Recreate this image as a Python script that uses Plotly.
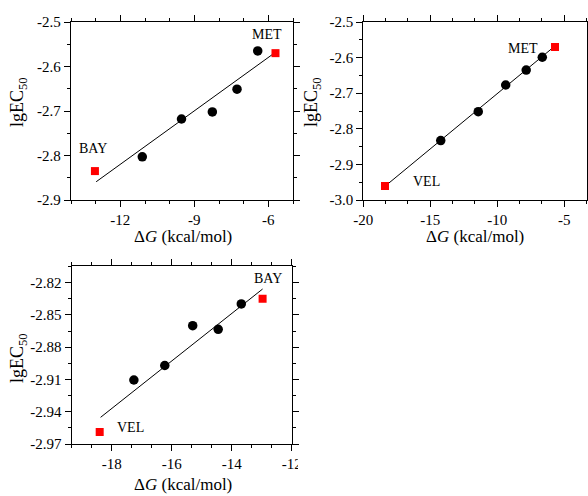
import plotly.graph_objects as go

FONT = "Liberation Serif"

# ---------------- data ----------------
# Panel A (top-left)
a_circ_x = [-11.11, -9.52, -8.27, -7.27, -6.43]
a_circ_y = [-2.803, -2.718, -2.702, -2.651, -2.565]
a_sq_x = [-13.03, -5.71]
a_sq_y = [-2.835, -2.570]
a_fit_x = [-12.98, -5.76]
a_fit_y = [-2.859, -2.570]
a_lab = ["BAY", "MET"]
a_lab_x = [-13.1, -6.04]
a_lab_y = [-2.785, -2.529]
a_xticks = [-12, -9, -6]
a_xtext = ["-12", "-9", "-6"]
a_yticks = [-2.9, -2.8, -2.7, -2.6, -2.5]
a_ytext = ["-2.9", "-2.8", "-2.7", "-2.6", "-2.5"]

# Panel B (top-right)
b_circ_x = [-14.22, -11.42, -9.37, -7.84, -6.64]
b_circ_y = [-2.833, -2.752, -2.677, -2.635, -2.599]
b_sq_x = [-18.38, -5.69]
b_sq_y = [-2.961, -2.570]
b_fit_x = [-18.4, -5.65]
b_fit_y = [-2.962, -2.566]
b_lab = ["MET", "VEL"]
b_lab_x = [-8.06, -15.25]
b_lab_y = [-2.574, -2.947]
b_xticks = [-20, -15, -10, -5]
b_xtext = ["-20", "-15", "-10", "-5"]
b_yticks = [-3.0, -2.9, -2.8, -2.7, -2.6, -2.5]
b_ytext = ["-3.0", "-2.9", "-2.8", "-2.7", "-2.6", "-2.5"]

# Panel C (bottom-left)
c_circ_x = [-17.26, -16.23, -15.30, -14.45, -13.68]
c_circ_y = [-2.9105, -2.897, -2.860, -2.8634, -2.8398]
c_sq_x = [-18.40, -12.97]
c_sq_y = [-2.9588, -2.8349]
c_fit_x = [-18.37, -12.97]
c_fit_y = [-2.9452, -2.8259]
c_lab = ["BAY", "VEL"]
c_lab_x = [-12.8, -17.37]
c_lab_y = [-2.816, -2.955]
c_xticks = [-18, -16, -14, -12]
c_xtext = ["-18", "-16", "-14", "-12"]
c_yticks = [-2.97, -2.94, -2.91, -2.88, -2.85, -2.82]
c_ytext = ["-2.97", "-2.94", "-2.91", "-2.88", "-2.85", "-2.82"]

W, H = 588, 496

fig = go.Figure()

panels = [
    ("x", "y", a_circ_x, a_circ_y, a_sq_x, a_sq_y, a_fit_x, a_fit_y, a_lab, a_lab_x, a_lab_y),
    ("x2", "y2", b_circ_x, b_circ_y, b_sq_x, b_sq_y, b_fit_x, b_fit_y, b_lab, b_lab_x, b_lab_y),
    ("x3", "y3", c_circ_x, c_circ_y, c_sq_x, c_sq_y, c_fit_x, c_fit_y, c_lab, c_lab_x, c_lab_y),
]

annotations = []
for xa, ya, cx, cy, sx, sy, fx, fy, lab, lx, ly in panels:
    fig.add_trace(go.Scatter(x=fx, y=fy, xaxis=xa, yaxis=ya, mode="lines",
                             line=dict(color="black", width=1), showlegend=False))
    fig.add_trace(go.Scatter(x=cx, y=cy, xaxis=xa, yaxis=ya, mode="markers",
                             marker=dict(symbol="circle", size=9.5, color="black"),
                             showlegend=False))
    fig.add_trace(go.Scatter(x=sx, y=sy, xaxis=xa, yaxis=ya, mode="markers",
                             marker=dict(symbol="square", size=8, color="#ff0000"),
                             showlegend=False))
    for t, x, y in zip(lab, lx, ly):
        annotations.append(dict(x=x, y=y, xref=xa, yref=ya, text=t, showarrow=False,
                                font=dict(family=FONT, size=14, color="black"),
                                xanchor="center", yanchor="middle"))

def px_x(p):
    return p / W

def px_y(p):
    return 1 - p / H

def axis_common(**kw):
    d = dict(showline=True, linecolor="black", linewidth=1.3, mirror="allticks",
             ticks="outside", ticklen=6, tickwidth=1.3, tickcolor="black",
             showgrid=False, zeroline=False, tickmode="array", automargin=False,
             tickfont=dict(family=FONT, size=15, color="black"))
    d.update(kw)
    return d

minor_style = dict(ticks="outside", ticklen=3, tickwidth=1.3, tickcolor="black", showgrid=False)

fig.update_layout(
    template="none",
    width=W, height=H,
    margin=dict(l=0, r=0, t=0, b=0, pad=0),
    font=dict(family=FONT, color="black"),
    paper_bgcolor="white", plot_bgcolor="white",
    xaxis=axis_common(domain=[px_x(71), px_x(293)], range=[-14, -5], anchor="y",
                      tickvals=a_xticks, ticktext=a_xtext,
                      minor=dict(tick0=-12, dtick=1, **minor_style)),
    yaxis=axis_common(domain=[px_y(200), px_y(22)], range=[-2.9, -2.5], anchor="x",
                      tickvals=a_yticks, ticktext=a_ytext,
                      minor=dict(tick0=-2.5, dtick=0.05, **minor_style)),
    xaxis2=axis_common(domain=[px_x(363.3), px_x(587.3)], range=[-20, -3.28], anchor="y2",
                       tickvals=b_xticks, ticktext=b_xtext,
                       minor=dict(tick0=-20, dtick=5 / 3, **minor_style)),
    yaxis2=axis_common(domain=[px_y(200), px_y(22)], range=[-3.0, -2.5], anchor="x2",
                       tickvals=b_yticks, ticktext=b_ytext,
                       minor=dict(tick0=-2.5, dtick=0.05, **minor_style)),
    xaxis3=axis_common(domain=[px_x(71.7), px_x(291.7)], range=[-19.333, -12], anchor="y3",
                       tickvals=c_xticks, ticktext=c_xtext,
                       minor=dict(tick0=-18, dtick=2 / 3, **minor_style)),
    yaxis3=axis_common(domain=[px_y(444), px_y(266)], range=[-2.97, -2.8045], anchor="x3",
                       tickvals=c_yticks, ticktext=c_ytext,
                       minor=dict(tick0=-2.82, dtick=0.015, **minor_style)),
)

xtitle = "Δ<i>G</i> (kcal/mol)"
ytitle = "lgEC<sub>50</sub>"
title_font = dict(family=FONT, size=17, color="black")
for x, y in [(183, 237), (475, 237), (183, 484)]:
    annotations.append(dict(x=px_x(x), y=px_y(y), xref="paper", yref="paper", text=xtitle,
                            showarrow=False, font=title_font, xanchor="center", yanchor="middle"))
for x, y in [(18, 102), (312, 102), (18, 358)]:
    annotations.append(dict(x=px_x(x), y=px_y(y), xref="paper", yref="paper", text=ytitle,
                            showarrow=False, font=dict(family=FONT, size=18, color="black"),
                            textangle=-90, xanchor="center", yanchor="middle"))

fig.update_layout(annotations=annotations)

# crop the bottom-right area (the original panel is clipped there)
fig.add_shape(type="rect", xref="paper", yref="paper", x0=px_x(298), x1=1.0,
              y0=0, y1=px_y(446), fillcolor="white", line=dict(width=0), layer="above")

fig.write_html("out.html",
               config={"displayModeBar": False},
               post_script="document.body.style.margin='0';document.body.style.overflow='hidden';")
